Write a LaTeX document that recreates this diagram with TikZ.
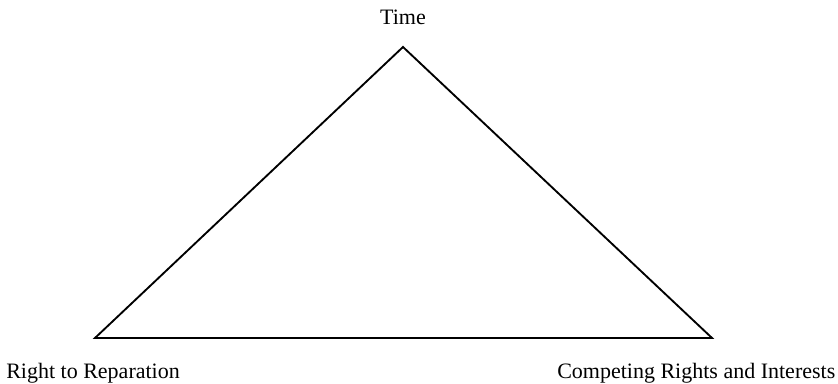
\documentclass[tikz,border=0pt]{standalone}
\usepackage{fontspec}
\setmainfont{Liberation Serif}
\usetikzlibrary{positioning}
\tikzset{
  corner/.style={font=\fontsize{16.5}{20}\selectfont,inner sep=0pt},
  side/.style={line width=1.4pt,line join=miter},
}
\begin{document}
\begin{tikzpicture}[x=0.75pt,y=-0.75pt]
  \useasboundingbox (0,0) rectangle (838,384);
  % triangle corners
  \coordinate (apex) at (403,47);
  \coordinate (left) at (95,338);
  \coordinate (right) at (712,338);
  \draw[side] (apex) -- (left) -- (right) -- cycle;
  % labels
  \node[corner,anchor=base] (time) at (403,25) {Time};
  \node[corner,anchor=base west] (repair) at (6,378) {Right to Reparation};
  \node[corner,anchor=base west] (rights) at (557,378) {Competing Rights and Interests};
\end{tikzpicture}
\end{document}
